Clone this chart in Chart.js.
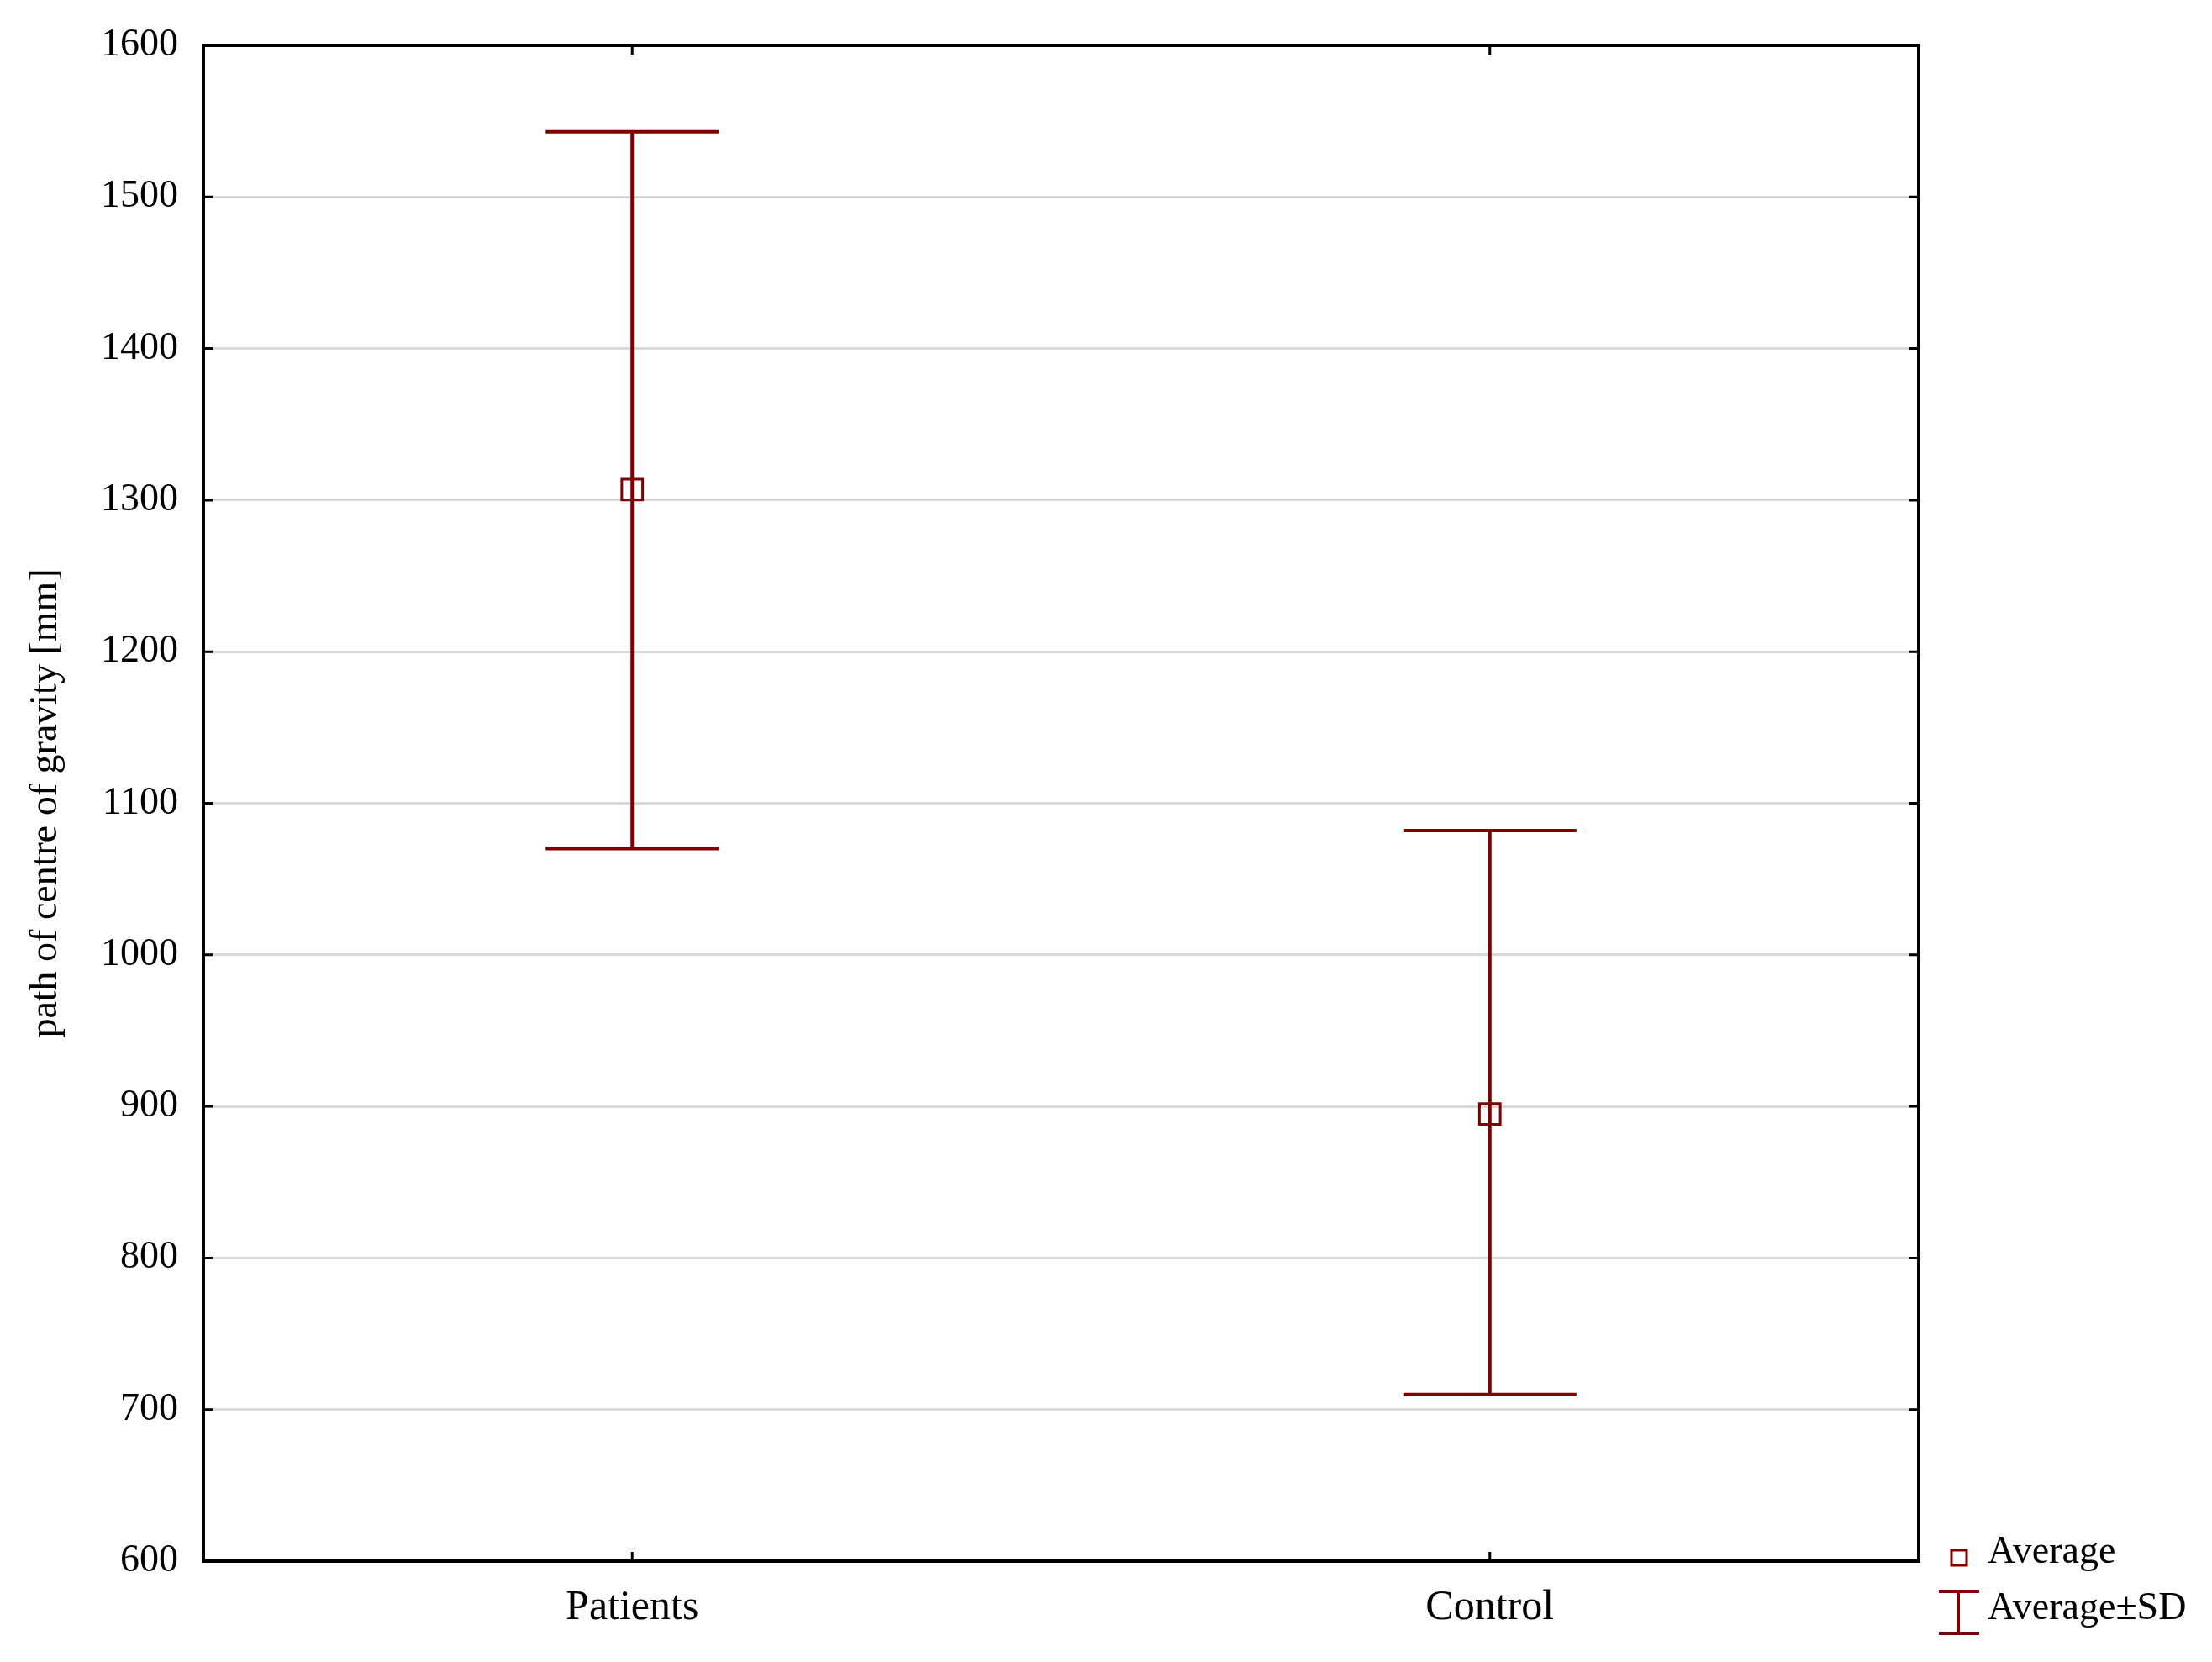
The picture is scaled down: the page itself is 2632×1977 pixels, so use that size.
<!DOCTYPE html>
<html><head><meta charset="utf-8">
<script src="https://cdn.jsdelivr.net/npm/chart.js@4.4.1/dist/chart.umd.min.js"></script>
<style>html,body{margin:0;padding:0;background:#fff;} canvas{display:block;}</style>
</head><body>
<canvas id="c" width="2632" height="1977"></canvas>
<script>
const categories = ['Patients', 'Control'];
const averages = [1307, 895];
const sdUpper = [1543, 1082];
const sdLower = [1070, 710];
const yTicks = [600, 700, 800, 900, 1000, 1100, 1200, 1300, 1400, 1500, 1600];
const yTitle = 'path of centre of gravity [mm]';
const legendLabels = ['Average', 'Average\u00B1SD'];

const MAROON = '#800000';
const SERIF = '"Liberation Serif", "Times New Roman", serif';

const errorBars = {
  id: 'errorBars',
  afterDatasetsDraw(chart) {
    const { ctx, scales: { x, y } } = chart;
    ctx.save();
    ctx.strokeStyle = MAROON;
    ctx.lineWidth = 4;
    categories.forEach((c, i) => {
      const px = x.getPixelForValue(i);
      const t = y.getPixelForValue(sdUpper[i]);
      const b = y.getPixelForValue(sdLower[i]);
      ctx.beginPath();
      ctx.moveTo(px, t); ctx.lineTo(px, b);
      ctx.moveTo(px - 103, t); ctx.lineTo(px + 103, t);
      ctx.moveTo(px - 103, b); ctx.lineTo(px + 103, b);
      ctx.stroke();
    });
    ctx.restore();
  }
};

const frame = {
  id: 'frame',
  afterDraw(chart) {
    const { ctx, chartArea: a, scales: { x, y } } = chart;
    ctx.save();
    ctx.strokeStyle = '#000';
    ctx.lineWidth = 3;
    ctx.beginPath();
    yTicks.forEach(v => {
      const py = y.getPixelForValue(v);
      ctx.moveTo(a.left, py); ctx.lineTo(a.left + 11, py);
      ctx.moveTo(a.right, py); ctx.lineTo(a.right - 11, py);
    });
    categories.forEach((c, i) => {
      const px = x.getPixelForValue(i);
      ctx.moveTo(px, a.top); ctx.lineTo(px, a.top + 11);
      ctx.moveTo(px, a.bottom); ctx.lineTo(px, a.bottom - 11);
    });
    ctx.stroke();
    ctx.lineWidth = 4;
    ctx.strokeRect(a.left, a.top, a.right - a.left, a.bottom - a.top);

    // legend
    ctx.fillStyle = '#000';
    ctx.font = '46px ' + SERIF;
    ctx.textBaseline = 'alphabetic';
    ctx.textAlign = 'left';
    ctx.fillText(legendLabels[0], 2365, 1859);
    ctx.fillText(legendLabels[1], 2365, 1926);
    ctx.strokeStyle = MAROON;
    ctx.lineWidth = 3;
    ctx.strokeRect(2322, 1844, 18, 18);
    ctx.lineWidth = 4;
    ctx.beginPath();
    ctx.moveTo(2307, 1893); ctx.lineTo(2355, 1893);
    ctx.moveTo(2307, 1943); ctx.lineTo(2355, 1943);
    ctx.moveTo(2330, 1893); ctx.lineTo(2330, 1943);
    ctx.stroke();
    ctx.restore();
  }
};

new Chart(document.getElementById('c'), {
  type: 'line',
  data: {
    labels: categories,
    datasets: [{
      label: legendLabels[0],
      data: averages,
      showLine: false,
      pointStyle: 'rect',
      pointRadius: 17.5,
      pointHoverRadius: 17.5,
      pointBorderWidth: 3,
      pointBorderColor: MAROON,
      pointBackgroundColor: 'rgba(0,0,0,0)',
      borderColor: MAROON
    }]
  },
  options: {
    responsive: false,
    devicePixelRatio: 1,
    animation: false,
    events: [],
    layout: { padding: { left: 0, top: 54, right: 349, bottom: 0 } },
    plugins: { legend: { display: false }, tooltip: { enabled: false } },
    scales: {
      x: {
        type: 'category',
        offset: true,
        grid: { display: false, drawTicks: false },
        border: { display: false },
        ticks: { color: '#000', font: { family: SERIF, size: 50 }, padding: 26, maxRotation: 0 },
        afterFit(s) { s.height = 120; s.paddingLeft = 0; s.paddingRight = 0; }
      },
      y: {
        min: 600, max: 1600,
        afterBuildTicks(s) { s.ticks = yTicks.map(v => ({ value: v })); },
        grid: {
          drawTicks: false,
          lineWidth: 3,
          color: c => (c.tick && (c.tick.value === 600 || c.tick.value === 1600)) ? 'rgba(0,0,0,0)' : '#d9d9d9'
        },
        border: { display: false },
        ticks: { color: '#000', font: { family: SERIF, size: 46 }, padding: 30, callback: v => String(v) },
        title: { display: true, text: yTitle, color: '#000', font: { family: SERIF, size: 46 }, padding: { top: 27, bottom: 0 } },
        afterFit(s) { s.width = 242; s.paddingTop = 0; s.paddingBottom = 0; }
      }
    }
  },
  plugins: [errorBars, frame]
});
</script>
</body></html>
